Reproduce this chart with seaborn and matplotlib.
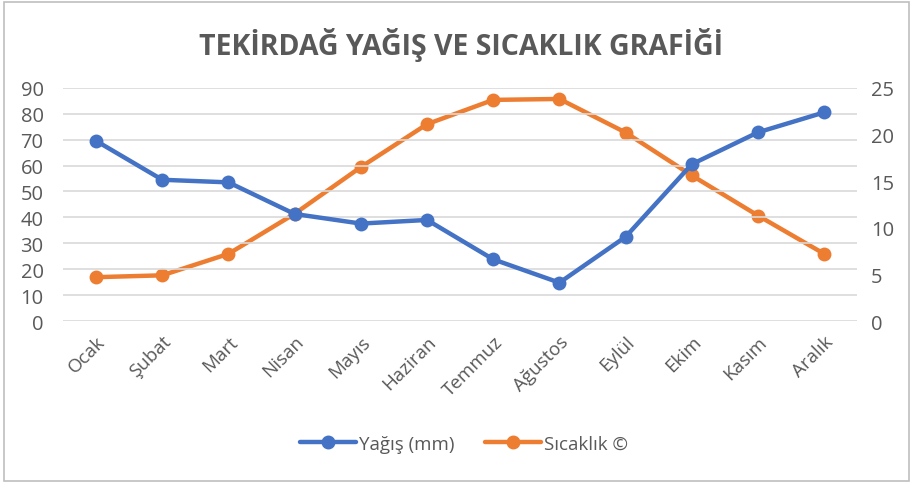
import pandas as pd
import matplotlib.pyplot as plt
import seaborn as sns
from matplotlib.lines import Line2D

months = ['Ocak', 'Şubat', 'Mart', 'Nisan', 'Mayıs', 'Haziran',
          'Temmuz', 'Ağustos', 'Eylül', 'Ekim', 'Kasım', 'Aralık']
yagis = [69.5, 54.5, 53.5, 41.3, 37.6, 39.0, 23.8, 14.8, 32.5, 60.5, 72.8, 80.5]
sicaklik = [4.7, 4.9, 7.2, 11.5, 16.5, 21.1, 23.7, 23.8, 20.2, 15.6, 11.3, 7.2]

BLUE = '#4472C4'
ORANGE = '#ED7D31'
GRAY = '#595959'

sns.set_style('white')
plt.rcParams['font.family'] = ['Open Sans', 'DejaVu Sans']

df = pd.DataFrame({'Ay': months, 'x': range(len(months)),
                   'Yagis': yagis, 'Sicaklik': sicaklik})

fig = plt.figure(figsize=(9.13, 4.85), dpi=100)
ax = fig.add_axes([0.069, 0.336, 0.870, 0.481])
ax2 = ax.twinx()

sns.lineplot(data=df, x='x', y='Yagis', ax=ax, color=BLUE, linewidth=3.2,
             marker='o', markersize=10, markeredgewidth=0, zorder=3)
sns.lineplot(data=df, x='x', y='Sicaklik', ax=ax2, color=ORANGE, linewidth=3.2,
             marker='o', markersize=10, markeredgewidth=0, zorder=3)

ax.set_xlim(-0.5, 11.5)
ax.set_ylim(0, 90)
ax2.set_ylim(0, 25)
ax.set_yticks(range(0, 91, 10))
ax2.set_yticks(range(0, 26, 5))
ax.set_xticks(range(len(months)))
ax.set_xticklabels(months, rotation=45, ha='right', rotation_mode='anchor',
                   fontsize=13.5, color=GRAY)
ax.yaxis.grid(True, color='#D9D9D9', linewidth=1.2)
ax.set_axisbelow(True)
for a in (ax, ax2):
    for s in a.spines.values():
        s.set_visible(False)
    a.set_xlabel('')
    a.set_ylabel('')
    a.tick_params(axis='both', length=0, labelsize=14.5, colors=GRAY)
ax.tick_params(axis='x', pad=8, labelsize=13.5)
ax.tick_params(axis='y', pad=14)
ax2.tick_params(axis='y', pad=10)

ax.set_zorder(ax2.get_zorder() + 1)
ax.patch.set_visible(False)

fig.text(0.505, 0.908, 'TEKİRDAĞ YAĞIŞ VE SICAKLIK GRAFİĞİ', ha='center', va='center',
         fontsize=20.5, fontweight='bold', color=GRAY)

handles = [Line2D([], [], color=BLUE, linewidth=3.2, marker='o', markersize=9),
           Line2D([], [], color=ORANGE, linewidth=3.2, marker='o', markersize=9)]
fig.legend(handles, ['Yağış (mm)', 'Sıcaklık ©'], loc='center', bbox_to_anchor=(0.508, 0.083),
           ncol=2, frameon=False, fontsize=13.5, labelcolor=GRAY, handlelength=3.0,
           columnspacing=1.6, handletextpad=0.15)

fig.patches.append(plt.Rectangle((0.004, 0.006), 0.992, 0.988, transform=fig.transFigure,
                                 fill=False, edgecolor='#BFBFBF', linewidth=1.2))

fig.savefig('out.png', dpi=100)
